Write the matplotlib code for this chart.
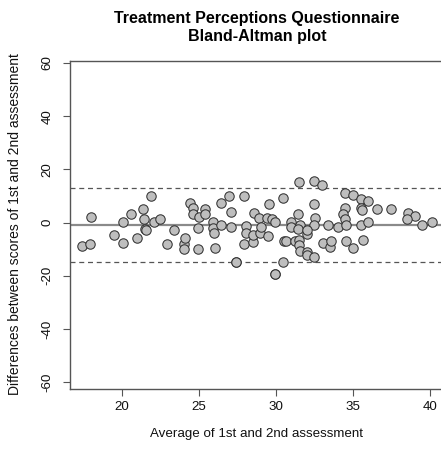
import matplotlib
matplotlib.use("Agg")
import matplotlib.pyplot as plt
import numpy as np

plt.rcParams['font.family'] = ['Liberation Sans', 'DejaVu Sans']

title_lines = ["Treatment Perceptions Questionnaire", "Bland-Altman plot"]
x_label = "Average of 1st and 2nd assessment"
y_label = "Differences between scores of 1st and 2nd assessment"

avg = [17.42, 17.92, 17.97, 19.5, 20.04, 20.04, 20.58, 20.97, 21.38, 21.43,
       21.49, 21.55, 21.85, 22.08, 22.47, 22.94, 23.4, 24.0, 24.03, 24.08,
       24.42, 24.59, 24.59, 24.92, 24.96, 25.02, 25.39, 25.39, 25.89, 25.93,
       25.97, 26.04, 26.45, 26.45, 26.95, 27.05, 27.05, 27.4, 27.4, 27.94,
       28.05, 28.05, 27.94, 28.53, 28.49, 28.6, 28.92, 28.96, 29.03, 29.44,
       29.55, 29.5, 29.72, 29.94, 29.94, 29.94, 30.43, 30.45, 30.52, 30.95,
       31.0, 31.41, 31.56, 31.45, 30.67, 31.25, 31.5, 31.5, 31.56, 31.99,
       31.99, 32.49, 32.03, 31.5, 32.49, 32.97, 32.49, 32.5, 32.49, 31.99,
       33.4, 34.05, 33.07, 33.5, 33.6, 34.48, 35.02, 34.48, 34.37, 34.48,
       34.52, 34.55, 35.02, 35.52, 35.95, 35.5, 35.6, 36.55, 37.47, 38.59,
       39.0, 38.53, 39.46, 40.11, 35.52, 35.95, 35.62]
diff = [-8.8, -7.9, 2.2, -4.7, 0.1, -7.7, 3.2, -5.7, 5.1, 1.4,
        -2.5, -2.8, 10.1, 0.1, 1.2, -7.9, -2.9, -8.0, -9.9, -5.8,
        7.5, 5.4, 3.1, -9.8, -1.9, 2.0, 5.1, 3.1, 0.1, -1.9,
        -4.0, -9.7, 7.2, -0.9, 10.1, 4.1, -1.8, -14.7, -14.7, 10.1,
        -1.3, -3.8, -8.0, -7.2, -4.7, 3.5, 1.8, -3.8, -1.5, 1.6,
        7.0, -5.0, 1.4, 0.3, -19.5, -19.5, 9.1, -14.8, -6.8, 0.4,
        -1.8, 3.2, -0.9, -2.3, -6.9, -6.9, -6.7, -8.6, -10.5, -11.0,
        -12.2, -12.8, -4.3, 15.4, 15.5, 14.2, 7.1, 1.6, -0.9, -2.8,
        -0.9, -1.6, -7.7, -9.1, -6.9, 11.0, 10.2, 5.4, 3.3, 1.5,
        -0.9, -6.9, -9.7, 9.0, 8.2, 5.5, 4.9, 5.1, 5.2, 3.5,
        2.5, 1.3, -0.8, 0.3, -0.9, 0.2, -6.7]

mean_diff = -0.9
upper_loa = 13.1
lower_loa = -14.9

x_ticks = [20, 25, 30, 35, 40]
y_ticks = [-60, -40, -20, 0, 20, 40, 60]

W, H = 441, 450
fig = plt.figure(figsize=(W / 100, H / 100), dpi=100)
left, right, top, bottom = 70, 444, 61, 389
ax = fig.add_axes([left / W, (H - bottom) / H, (right - left) / W, (bottom - top) / H])

ax.set_xlim(16.62, 40.91)
ax.set_ylim(-62.56, 60.75)

ax.axhline(mean_diff, color='#8a8a8a', lw=1.6, zorder=1)
ax.axhline(upper_loa, color='#555555', lw=0.9, ls=(0, (4, 3)), zorder=1)
ax.axhline(lower_loa, color='#555555', lw=0.9, ls=(0, (4, 3)), zorder=1)

ax.scatter(avg, diff, s=46, facecolor='#bebebe', edgecolor='#333333', linewidths=0.75, zorder=3)

for sp in ax.spines.values():
    sp.set_color('#555555')
    sp.set_linewidth(1.0)

fs = 9.6
ax.set_xticks(x_ticks)
ax.set_yticks(y_ticks)
ax.set_yticklabels([str(v) for v in y_ticks], rotation=90, va='center')
ax.tick_params(axis='both', direction='out', length=5, width=0.8, color='#555555',
               labelsize=fs, labelcolor='#111111')
ax.tick_params(axis='x', pad=4)
ax.tick_params(axis='y', pad=7)

fig.text(257 / W, 1 - 19 / H, title_lines[0], ha='center', va='center', fontsize=11.5, fontweight='bold')
fig.text(257 / W, 1 - 37 / H, title_lines[1], ha='center', va='center', fontsize=11.5, fontweight='bold')
fig.text(257 / W, 1 - 434 / H, x_label, ha='center', va='center', fontsize=fs, color='#111111')
fig.text(15 / W, 1 - 224 / H, y_label, ha='center', va='center', rotation=90, fontsize=10.0, color='#111111')

fig.savefig('out.png', dpi=100)
